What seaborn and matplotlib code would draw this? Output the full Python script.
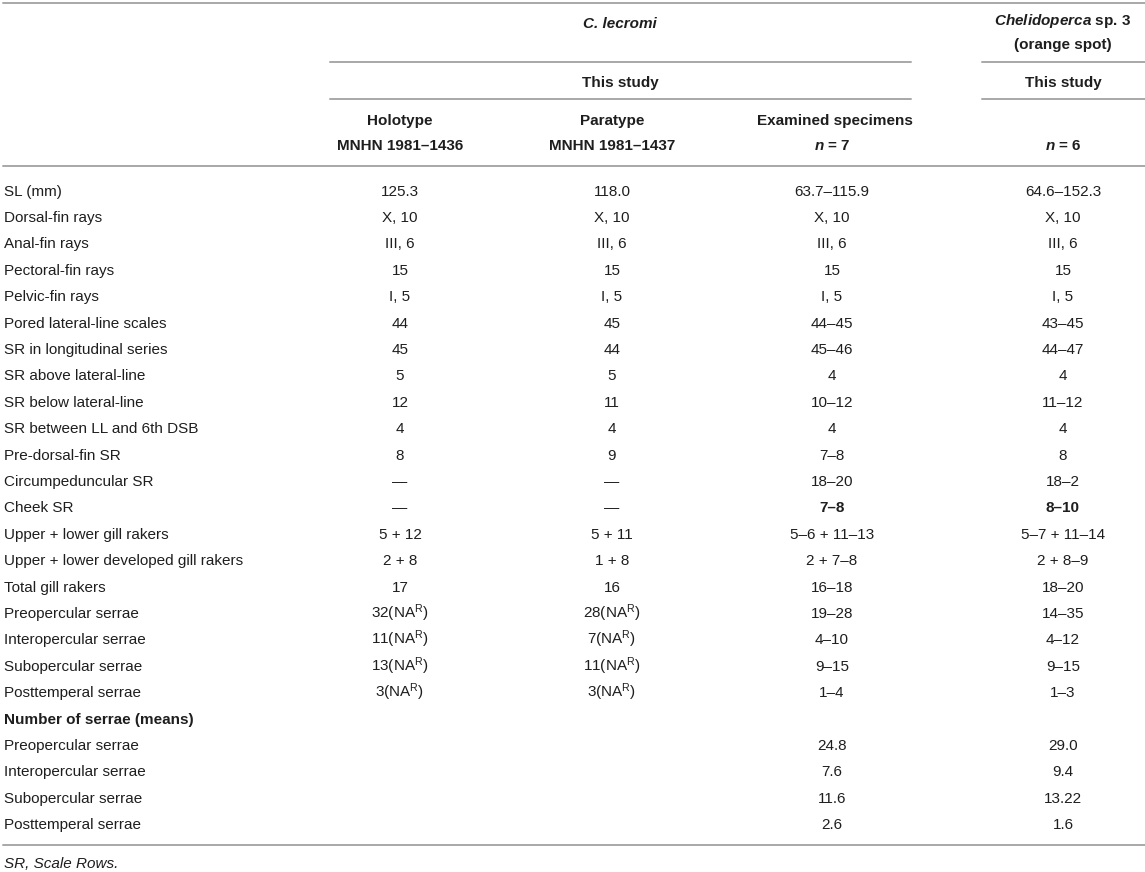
import matplotlib
matplotlib.use("Agg")
import matplotlib.pyplot as plt
import seaborn as sns
import pandas as pd

# ---------------- data ----------------
row_labels = [
    "SL (mm)", "Dorsal-fin rays", "Anal-fin rays", "Pectoral-fin rays",
    "Pelvic-fin rays", "Pored lateral-line scales", "SR in longitudinal series",
    "SR above lateral-line", "SR below lateral-line", "SR between LL and 6th DSB",
    "Pre-dorsal-fin SR", "Circumpeduncular SR", "Cheek SR",
    "Upper + lower gill rakers", "Upper + lower developed gill rakers",
    "Total gill rakers", "Preopercular serrae", "Interopercular serrae",
    "Subopercular serrae", "Posttemperal serrae", "Number of serrae (means)",
    "Preopercular serrae", "Interopercular serrae", "Subopercular serrae",
    "Posttemperal serrae",
]
NA = "(NA$^{\\rm R}$)"
holotype = ["125.3", "X, 10", "III, 6", "15", "I, 5", "44", "45", "5", "12", "4",
            "8", "—", "—", "5 + 12", "2 + 8", "17", "32" + NA, "11" + NA,
            "13" + NA, "3" + NA, "", "", "", "", ""]
paratype = ["118.0", "X, 10", "III, 6", "15", "I, 5", "45", "44", "5", "11", "4",
            "9", "—", "—", "5 + 11", "1 + 8", "16", "28" + NA, "7" + NA,
            "11" + NA, "3" + NA, "", "", "", "", ""]
examined = ["63.7–115.9", "X, 10", "III, 6", "15", "I, 5", "44–45", "45–46", "4",
            "10–12", "4", "7–8", "18–20", "7–8", "5–6 + 11–13", "2 + 7–8", "16–18",
            "19–28", "4–10", "9–15", "1–4", "", "24.8", "7.6", "11.6", "2.6"]
chelidoperca = ["64.6–152.3", "X, 10", "III, 6", "15", "I, 5", "43–45", "44–47", "4",
                "11–12", "4", "8", "18–2", "8–10", "5–7 + 11–14", "2 + 8–9", "18–20",
                "14–35", "4–12", "9–15", "1–3", "", "29.0", "9.4", "13.22", "1.6"]
bold_label_rows = ["Number of serrae (means)"]
bold_value_row = "Cheek SR"

header_group = ["C. lecromi", "$\\it{Chelidoperca}$ sp. 3\n(orange spot)"]
header_source = ["This study", "This study"]
header_cols = ["Holotype\nMNHN 1981–1436", "Paratype\nMNHN 1981–1437",
               "Examined specimens\n$n$ = 7", "\n$n$ = 6"]
footnote = "SR, Scale Rows."

# ---------------- style ----------------
sns.set_theme(style="white")
plt.rcParams["font.family"] = ["Liberation Sans", "DejaVu Sans"]
plt.rcParams["mathtext.fontset"] = "custom"
plt.rcParams["mathtext.rm"] = "Liberation Sans"
plt.rcParams["mathtext.it"] = "Liberation Sans:italic:bold"
plt.rcParams["mathtext.bf"] = "Liberation Sans:bold"

FS = 11
TXT = "#1e1e1e"
LINE = "#a8a8a8"

fig = plt.figure(figsize=(11.45, 8.72), dpi=100)
ax = fig.add_axes([0, 0, 1, 1])
ax.set_xlim(0, 1145)
ax.set_ylim(872, 0)
ax.axis("off")

col_x = [400, 612, 832, 1063]
y0, dy = 190, 26.4

df = pd.DataFrame({"label": row_labels, "h": holotype, "p": paratype,
                   "e": examined, "c": chelidoperca})

def base(yc):
    return yc + 5.5

for i, r in df.iterrows():
    yc = y0 + i * dy
    ax.text(4, base(yc), r["label"], fontsize=FS, color=TXT, va="baseline", ha="left",
            fontweight="bold" if r["label"] in bold_label_rows else "normal")
    for x, key in zip(col_x, ["h", "p", "e", "c"]):
        v = r[key]
        if not v:
            continue
        bold = (r["label"] == bold_value_row and key in ("e", "c"))
        ax.text(x, base(yc), v, fontsize=FS, color=TXT, va="baseline", ha="center",
                fontweight="bold" if bold else "normal")

# header
ax.text(620, base(23), header_group[0], fontsize=FS, color=TXT, ha="center",
        va="baseline", fontweight="bold", style="italic")
g2 = header_group[1].split("\n")
ax.text(1063, base(19), g2[0], fontsize=FS, color=TXT, ha="center", va="baseline",
        fontweight="bold")
ax.text(1063, base(43), g2[1], fontsize=FS, color=TXT, ha="center", va="baseline",
        fontweight="bold")
ax.text(620, base(81), header_source[0], fontsize=FS, color=TXT, ha="center",
        va="baseline", fontweight="bold")
ax.text(1063, base(81), header_source[1], fontsize=FS, color=TXT, ha="center",
        va="baseline", fontweight="bold")
hx = [400, 612, 835, 1063]
for x, h in zip(hx, header_cols):
    a, b = h.split("\n")
    if a:
        ax.text(x, base(119), a, fontsize=FS, color=TXT, ha="center", va="baseline",
                fontweight="bold")
    ax.text(x if a != "Examined specimens" else 832, base(145), b, fontsize=FS,
            color=TXT, ha="center", va="baseline", fontweight="bold")

# rules
lw = 1.4
ax.plot([3, 1145], [3, 3], color=LINE, lw=lw)
for yy in (62, 99):
    ax.plot([330, 911], [yy, yy], color=LINE, lw=lw)
    ax.plot([982, 1145], [yy, yy], color=LINE, lw=lw)
ax.plot([3, 1145], [166, 166], color=LINE, lw=lw)
ax.plot([3, 1145], [845, 845], color=LINE, lw=lw)

ax.text(4, base(862), footnote, fontsize=FS, color=TXT, ha="left", va="baseline",
        style="italic")

fig.savefig("out.png", dpi=100, facecolor="white")
